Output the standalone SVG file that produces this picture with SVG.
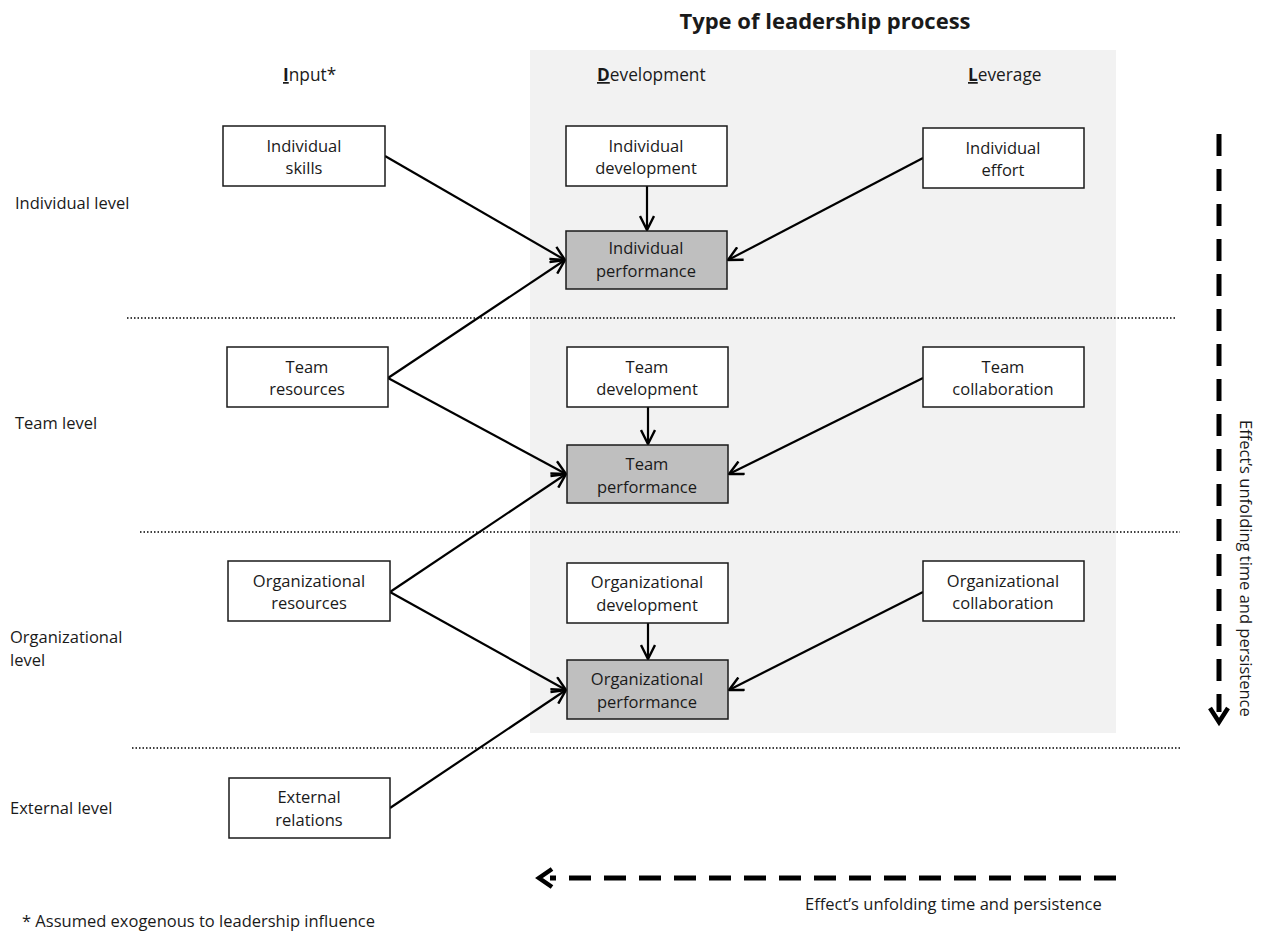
<svg xmlns="http://www.w3.org/2000/svg" width="1267" height="933" viewBox="0 0 1267 933">
<style>
text{font-family:"Open Sans","Noto Sans",sans-serif;fill:#1a1a1a;font-size:16.5px}
.c{text-anchor:middle}
.box{fill:#fff;stroke:#1a1a1a;stroke-width:1.5}
.perf{fill:#bfbfbf;stroke:#1a1a1a;stroke-width:1.5}
.con{stroke:#000;stroke-width:2.2;fill:none;marker-end:url(#ah)}
.dot{stroke:#000;stroke-width:1.3;stroke-dasharray:1.5 2;fill:none}
.hd{font-size:17.3px}
.b{font-weight:bold;text-decoration:underline}
</style>
<defs>
<marker id="ah" viewBox="0 0 16 16" refX="15" refY="8" markerWidth="16" markerHeight="16" markerUnits="userSpaceOnUse" orient="auto">
<path d="M1 1 L15 8 L1 15" fill="none" stroke="#000" stroke-width="2.4"/>
</marker>
</defs>
<rect x="530" y="50" width="586" height="683" fill="#f2f2f2"/>
<text x="825" y="29" class="c" style="font-size:22px;font-weight:bold">Type of leadership process</text>
<text x="283" y="81" class="hd"><tspan class="b">I</tspan>nput*</text>
<text x="597" y="81" class="hd"><tspan class="b">D</tspan>evelopment</text>
<text x="968" y="81" class="hd"><tspan class="b">L</tspan>everage</text>
<g id="row-labels">
<text x="15" y="209">Individual level</text>
<text x="15" y="429">Team level</text>
<text x="10" y="643">Organizational</text>
<text x="10" y="666">level</text>
<text x="10" y="814">External level</text>
</g>
<g id="separators">
<line class="dot" x1="127" y1="318" x2="1175" y2="318"/>
<line class="dot" x1="140" y1="532" x2="1180" y2="532"/>
<line class="dot" x1="132" y1="748" x2="1180" y2="748"/>
</g>
<g id="connectors">
<line class="con" x1="385" y1="156" x2="565" y2="260"/>
<line class="con" x1="388" y1="378" x2="565" y2="260"/>
<line class="con" x1="388" y1="378" x2="566" y2="474"/>
<line class="con" x1="390" y1="592" x2="566" y2="474"/>
<line class="con" x1="390" y1="592" x2="566" y2="690"/>
<line class="con" x1="390" y1="808" x2="566" y2="690"/>
<line class="con" x1="647" y1="186" x2="647" y2="230"/>
<line class="con" x1="648" y1="407" x2="648" y2="444"/>
<line class="con" x1="648" y1="623" x2="648" y2="659"/>
<line class="con" x1="923" y1="158" x2="728" y2="260"/>
<line class="con" x1="923" y1="378" x2="729" y2="474"/>
<line class="con" x1="923" y1="592" x2="729" y2="690"/>
</g>
<g id="individual-skills"><rect class="box" x="223" y="126" width="162" height="60"/><text x="304" y="152" class="c">Individual</text><text x="304" y="174" class="c">skills</text></g>
<g id="team-resources"><rect class="box" x="227" y="347" width="161" height="60"/><text x="307" y="373" class="c">Team</text><text x="307" y="395" class="c">resources</text></g>
<g id="org-resources"><rect class="box" x="228" y="561" width="162" height="60"/><text x="309" y="587" class="c">Organizational</text><text x="309" y="609" class="c">resources</text></g>
<g id="external-relations"><rect class="box" x="229" y="778" width="161" height="60"/><text x="309" y="803" class="c">External</text><text x="309" y="826" class="c">relations</text></g>
<g id="individual-development"><rect class="box" x="566" y="126" width="161" height="60"/><text x="646" y="152" class="c">Individual</text><text x="646" y="174" class="c">development</text></g>
<g id="individual-performance"><rect class="perf" x="566" y="231" width="161" height="58"/><text x="646" y="254" class="c">Individual</text><text x="646" y="277" class="c">performance</text></g>
<g id="team-development"><rect class="box" x="567" y="347" width="161" height="60"/><text x="647" y="373" class="c">Team</text><text x="647" y="395" class="c">development</text></g>
<g id="team-performance"><rect class="perf" x="567" y="445" width="161" height="58"/><text x="647" y="470" class="c">Team</text><text x="647" y="493" class="c">performance</text></g>
<g id="org-development"><rect class="box" x="567" y="563" width="161" height="60"/><text x="647" y="588" class="c">Organizational</text><text x="647" y="611" class="c">development</text></g>
<g id="org-performance"><rect class="perf" x="567" y="660" width="161" height="59"/><text x="647" y="685" class="c">Organizational</text><text x="647" y="708" class="c">performance</text></g>
<g id="individual-effort"><rect class="box" x="923" y="128" width="161" height="60"/><text x="1003" y="154" class="c">Individual</text><text x="1003" y="176" class="c">effort</text></g>
<g id="team-collaboration"><rect class="box" x="923" y="347" width="161" height="60"/><text x="1003" y="373" class="c">Team</text><text x="1003" y="395" class="c">collaboration</text></g>
<g id="org-collaboration"><rect class="box" x="923" y="561" width="161" height="60"/><text x="1003" y="587" class="c">Organizational</text><text x="1003" y="609" class="c">collaboration</text></g>
<g id="time-vertical">
<line x1="1219" y1="134" x2="1219" y2="712" stroke="#000" stroke-width="5" stroke-dasharray="22 13"/>
<path d="M1210 708 L1219 722 L1228 708" fill="none" stroke="#000" stroke-width="4.5" stroke-linejoin="miter"/>
<text transform="translate(1240,420) rotate(90)">Effect’s unfolding time and persistence</text>
</g>
<g id="time-horizontal">
<line x1="1116" y1="878" x2="550" y2="878" stroke="#000" stroke-width="5" stroke-dasharray="22 13"/>
<path d="M552 869 L539 878 L552 887" fill="none" stroke="#000" stroke-width="4.5"/>
<text x="805" y="910">Effect’s unfolding time and persistence</text>
</g>
<text x="22" y="927">* Assumed exogenous to leadership influence</text>
</svg>
